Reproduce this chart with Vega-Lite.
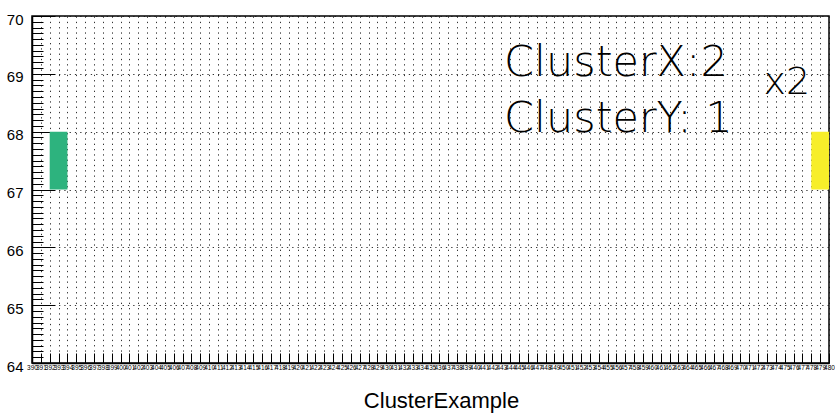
{
  "$schema": "https://vega.github.io/schema/vega-lite/v6.json",
  "width": 797,
  "height": 347,
  "autosize": {"type": "none"},
  "padding": {"left": 32, "top": 16, "right": 6, "bottom": 52},
  "background": "white",
  "config": {
    "view": {"stroke": "black", "strokeWidth": 1.5},
    "axis": {"labelFont": "Liberation Sans", "titleFont": "Liberation Sans", "labelColor": "black", "titleColor": "black", "domainColor": "black", "tickColor": "black"}
  },
  "datasets": {
    "cells": [
      {"bx": 392, "bx2": 394, "by": 67, "by2": 68, "cluster": "A"},
      {"bx": 478, "bx2": 480, "by": 67, "by2": 68, "cluster": "B"}
    ],
    "notes": [
      {"label": "ClusterX:2", "nx": 443.3, "ny": 68.97, "kind": "big"},
      {"label": "ClusterY: 1", "nx": 443.3, "ny": 67.99, "kind": "big"},
      {"label": "x2", "nx": 472.6, "ny": 68.65, "kind": "small"}
    ]
  },
  "resolve": {"axis": {"y": "independent", "x": "independent"}},
  "layer": [
    {
      "data": {"name": "cells"},
      "mark": {"type": "rect"},
      "encoding": {
        "x": {"field": "bx", "type": "quantitative", "scale": {"domain": [390, 480], "nice": false, "zero": false},
          "axis": {"title": "ClusterExample", "tickCount": 90, "labelOverlap": false, "labelFontSize": 6.5, "labelPadding": 11, "labelFlush": false,
            "tickSize": -10, "grid": true, "gridDash": [1.3, 4], "gridColor": "#111", "gridOpacity": 0.85,
            "domainWidth": 1.5, "titleFontSize": 22, "titleFontWeight": "normal", "titleX": 409, "titleY": 44, "titleBaseline": "alphabetic", "titleAnchor": "middle"}},
        "x2": {"field": "bx2"},
        "y": {"field": "by", "type": "quantitative", "scale": {"domain": [64, 70], "nice": false, "zero": false},
          "axis": {"title": null, "tickCount": 6, "labelFontSize": 15, "labelPadding": 32, "labelOffset": 3,
            "tickSize": -23, "grid": true, "gridDash": [1.3, 4], "gridColor": "#111", "gridOpacity": 0.85, "domainWidth": 1.5}},
        "y2": {"field": "by2"},
        "color": {"field": "cluster", "type": "nominal", "scale": {"domain": ["A", "B"], "range": ["#2db37e", "#f7ee2a"]}, "legend": null}
      }
    },
    {
      "data": {"name": "cells"},
      "mark": {"type": "point", "opacity": 0},
      "encoding": {
        "y": {"field": "by", "type": "quantitative",
          "axis": {"orient": "left", "title": null, "labels": false, "grid": false, "domain": false, "tickSize": -11,
            "values": [64.1,64.2,64.3,64.4,64.5,64.6,64.7,64.8,64.9,65.1,65.2,65.3,65.4,65.5,65.6,65.7,65.8,65.9,66.1,66.2,66.3,66.4,66.5,66.6,66.7,66.8,66.9,67.1,67.2,67.3,67.4,67.5,67.6,67.7,67.8,67.9,68.1,68.2,68.3,68.4,68.5,68.6,68.7,68.8,68.9,69.1,69.2,69.3,69.4,69.5,69.6,69.7,69.8,69.9]}}
      }
    },
    {
      "data": {"name": "notes"},
      "transform": [{"filter": "datum.kind === 'big'"}],
      "mark": {"type": "text", "font": "DejaVu Sans", "fontSize": 43, "fontWeight": 200, "align": "left", "baseline": "alphabetic", "color": "black"},
      "encoding": {
        "x": {"field": "nx", "type": "quantitative", "axis": null},
        "y": {"field": "ny", "type": "quantitative", "axis": null},
        "text": {"field": "label"}
      }
    },
    {
      "data": {"name": "notes"},
      "transform": [{"filter": "datum.kind === 'small'"}],
      "mark": {"type": "text", "font": "DejaVu Sans", "fontSize": 38, "fontWeight": 200, "align": "left", "baseline": "alphabetic", "color": "black"},
      "encoding": {
        "x": {"field": "nx", "type": "quantitative", "axis": null},
        "y": {"field": "ny", "type": "quantitative", "axis": null},
        "text": {"field": "label"}
      }
    }
  ]
}
